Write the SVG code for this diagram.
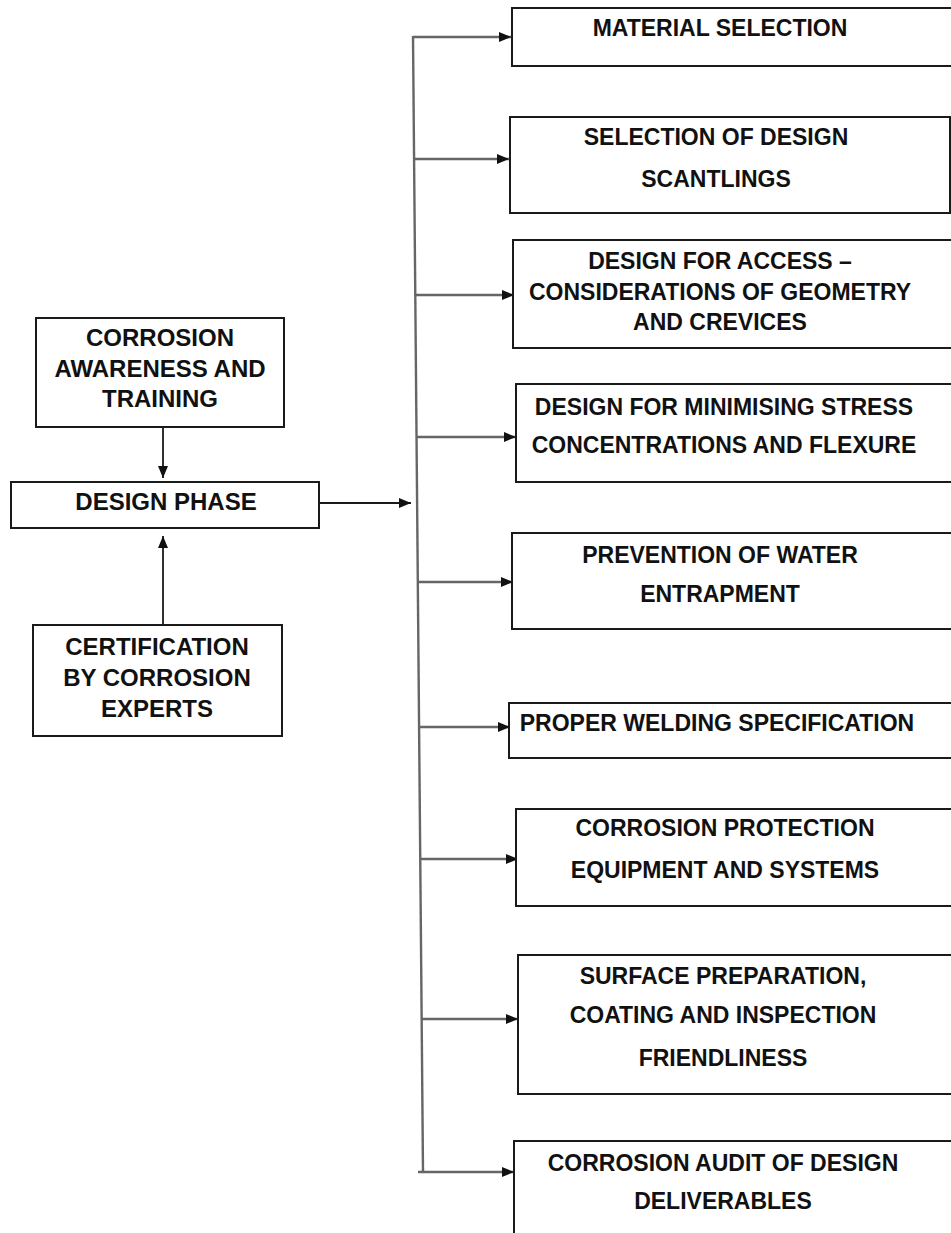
<svg xmlns="http://www.w3.org/2000/svg" width="951" height="1233" viewBox="0 0 951 1233">
<style>
.box{fill:#fff;stroke:#1a1a1a;stroke-width:2}
.t{font-family:"Liberation Sans",Arial,sans-serif;font-weight:bold;font-size:23px;fill:#111;text-anchor:middle}
.tl{font-family:"Liberation Sans",Arial,sans-serif;font-weight:bold;font-size:24px;fill:#111;text-anchor:middle}
.g{stroke:#666;stroke-width:2.4;fill:none}
.k{stroke:#1a1a1a;stroke-width:1.8;fill:none}
</style>
<defs>
<marker id="ah" markerUnits="userSpaceOnUse" markerWidth="14" markerHeight="12" refX="12" refY="6" orient="auto">
<path d="M0,1 L12,6 L0,11 z" fill="#111"/>
</marker>
</defs>
<rect width="951" height="1233" fill="#fff"/>
<g id="connectors">
<line class="k" x1="163" y1="427" x2="163" y2="478" marker-end="url(#ah)"/>
<line class="k" x1="163" y1="625" x2="163" y2="536" marker-end="url(#ah)"/>
<line class="k" x1="319" y1="503" x2="411" y2="503" marker-end="url(#ah)"/>
<line class="g" x1="413" y1="36" x2="423" y2="1172"/>
<line class="g" x1="413" y1="37" x2="511" y2="37" marker-end="url(#ah)"/>
<line class="g" x1="414" y1="159" x2="509" y2="159" marker-end="url(#ah)"/>
<line class="g" x1="415" y1="295" x2="514" y2="295" marker-end="url(#ah)"/>
<line class="g" x1="417" y1="437" x2="516" y2="437" marker-end="url(#ah)"/>
<line class="g" x1="418" y1="582" x2="513" y2="582" marker-end="url(#ah)"/>
<line class="g" x1="419" y1="727" x2="510" y2="727" marker-end="url(#ah)"/>
<line class="g" x1="421" y1="859" x2="518" y2="859" marker-end="url(#ah)"/>
<line class="g" x1="422" y1="1019" x2="518" y2="1019" marker-end="url(#ah)"/>
<line class="g" x1="418" y1="1172" x2="514" y2="1172" marker-end="url(#ah)"/>
</g>
<g id="awareness">
<rect class="box" x="36" y="318" width="248" height="109"/>
<text class="tl" x="160" y="346">CORROSION</text>
<text class="tl" x="160" y="377">AWARENESS AND</text>
<text class="tl" x="160" y="407">TRAINING</text>
</g>
<g id="design-phase">
<rect class="box" x="11" y="482" width="308" height="46"/>
<text class="tl" x="166" y="510">DESIGN PHASE</text>
</g>
<g id="certification">
<rect class="box" x="33" y="625" width="249" height="111"/>
<text class="tl" x="157" y="655">CERTIFICATION</text>
<text class="tl" x="157" y="686">BY CORROSION</text>
<text class="tl" x="157" y="717">EXPERTS</text>
</g>
<g id="material">
<rect class="box" x="512" y="8" width="442" height="58"/>
<text class="t" x="720" y="36">MATERIAL SELECTION</text>
</g>
<g id="scantlings">
<rect class="box" x="510" y="117" width="440" height="96"/>
<text class="t" x="716" y="145">SELECTION OF DESIGN</text>
<text class="t" x="716" y="187">SCANTLINGS</text>
</g>
<g id="access">
<rect class="box" x="513" y="240" width="441" height="108"/>
<text class="t" x="720" y="269">DESIGN FOR ACCESS –</text>
<text class="t" x="720" y="300">CONSIDERATIONS OF GEOMETRY</text>
<text class="t" x="720" y="330">AND CREVICES</text>
</g>
<g id="stress">
<rect class="box" x="516" y="384" width="438" height="98"/>
<text class="t" x="724" y="415">DESIGN FOR MINIMISING STRESS</text>
<text class="t" x="724" y="453">CONCENTRATIONS AND FLEXURE</text>
</g>
<g id="water">
<rect class="box" x="512" y="533" width="442" height="96"/>
<text class="t" x="720" y="563">PREVENTION OF WATER</text>
<text class="t" x="720" y="602">ENTRAPMENT</text>
</g>
<g id="welding">
<rect class="box" x="509" y="703" width="445" height="55"/>
<text class="t" x="717" y="731">PROPER WELDING SPECIFICATION</text>
</g>
<g id="protection">
<rect class="box" x="516" y="809" width="438" height="97"/>
<text class="t" x="725" y="836">CORROSION PROTECTION</text>
<text class="t" x="725" y="878">EQUIPMENT AND SYSTEMS</text>
</g>
<g id="surface">
<rect class="box" x="518" y="955" width="436" height="139"/>
<text class="t" x="723" y="984">SURFACE PREPARATION,</text>
<text class="t" x="723" y="1023">COATING AND INSPECTION</text>
<text class="t" x="723" y="1066">FRIENDLINESS</text>
</g>
<g id="audit">
<rect class="box" x="514" y="1141" width="440" height="100"/>
<text class="t" x="723" y="1171">CORROSION AUDIT OF DESIGN</text>
<text class="t" x="723" y="1209">DELIVERABLES</text>
</g>
</svg>
